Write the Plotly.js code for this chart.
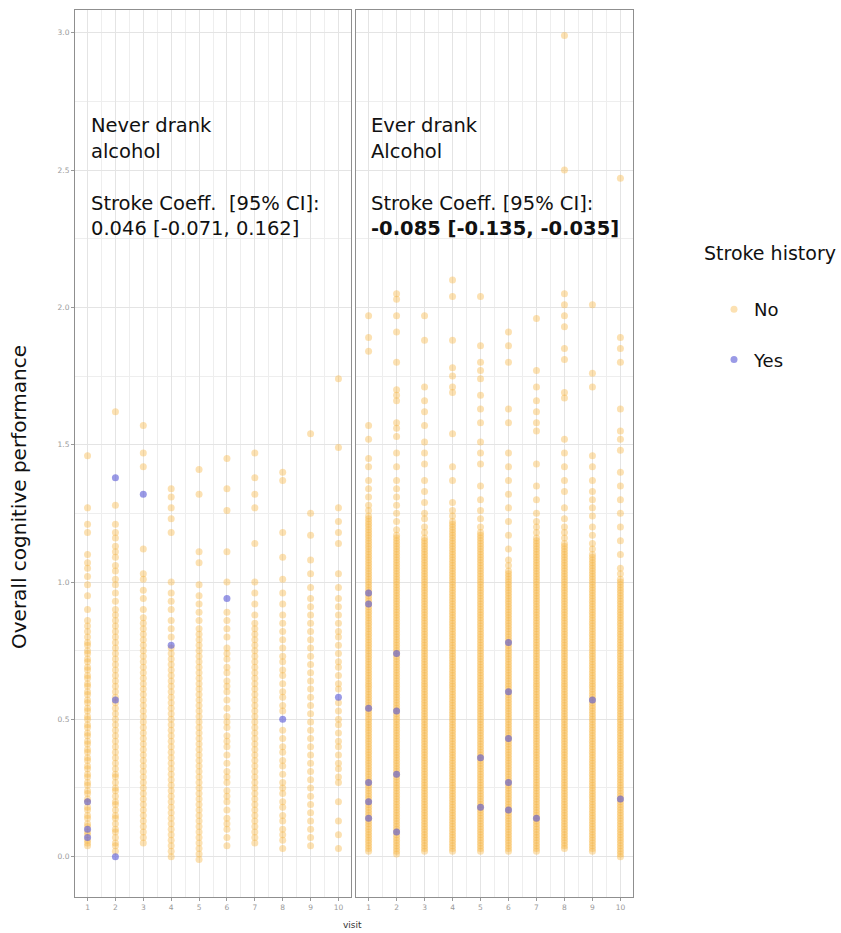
<!DOCTYPE html>
<html>
<head>
<meta charset="utf-8">
<script src="https://cdn.plot.ly/plotly-3.0.1.min.js"></script>
<style>
  html, body { margin: 0; padding: 0; background: #ffffff; }
  #chart { width: 841px; height: 933px; }
</style>
</head>
<body>
<div id="chart"></div>
<script>
// Visits on the x axis
const visits = [1, 2, 3, 4, 5, 6, 7, 8, 9, 10];
const visitTicks = ['1', '2', '3', '4', '5', '6', '7', '8', '9', '10'];
const scoreTicks = [0, 0.5, 1.0, 1.5, 2.0, 2.5, 3.0];

// Never drank alcohol, no stroke: scores per visit (index 0 = visit 1)
const neverNo = [
  [0.04,0.05,0.06,0.08,0.09,0.11,0.12,0.14,0.15,0.17,0.18,0.2,0.21,0.23,0.24,0.26,0.27,0.29,0.3,0.32,0.33,0.35,0.36,0.38,0.39,0.41,0.42,0.44,0.45,0.47,0.48,0.5,0.51,0.53,0.54,0.56,0.57,0.59,0.6,0.62,0.63,0.65,0.66,0.68,0.69,0.71,0.72,0.74,0.75,0.77,0.78,0.8,0.82,0.84,0.86,0.9,0.95,0.99,1.02,1.05,1.07,1.1,1.18,1.21,1.27,1.46],
  [0.02,0.04,0.05,0.07,0.09,0.1,0.12,0.14,0.15,0.17,0.19,0.2,0.22,0.24,0.25,0.27,0.29,0.3,0.32,0.34,0.36,0.38,0.4,0.42,0.44,0.46,0.48,0.5,0.52,0.54,0.56,0.58,0.6,0.62,0.64,0.66,0.68,0.7,0.72,0.74,0.76,0.78,0.8,0.82,0.84,0.86,0.88,0.9,0.93,0.96,0.99,1.01,1.04,1.06,1.09,1.11,1.13,1.16,1.18,1.21,1.28,1.62],
  [0.05,0.07,0.09,0.11,0.13,0.15,0.17,0.19,0.21,0.23,0.25,0.27,0.29,0.31,0.33,0.35,0.37,0.39,0.41,0.43,0.45,0.47,0.49,0.51,0.53,0.55,0.57,0.59,0.61,0.63,0.65,0.67,0.69,0.71,0.73,0.75,0.77,0.79,0.81,0.83,0.85,0.87,0.9,0.94,0.97,1.01,1.03,1.12,1.42,1.47,1.57],
  [0.0,0.02,0.04,0.06,0.08,0.1,0.12,0.14,0.16,0.18,0.2,0.22,0.24,0.26,0.28,0.3,0.32,0.34,0.36,0.38,0.4,0.42,0.44,0.46,0.48,0.5,0.52,0.54,0.56,0.58,0.6,0.62,0.64,0.66,0.68,0.7,0.72,0.74,0.76,0.8,0.83,0.86,0.9,0.93,0.96,1.0,1.18,1.23,1.27,1.31,1.34],
  [-0.01,0.01,0.03,0.05,0.07,0.09,0.11,0.13,0.15,0.17,0.19,0.21,0.23,0.25,0.27,0.29,0.31,0.33,0.35,0.37,0.39,0.41,0.43,0.45,0.47,0.49,0.51,0.53,0.55,0.57,0.59,0.61,0.63,0.65,0.67,0.69,0.71,0.73,0.75,0.77,0.79,0.81,0.83,0.86,0.89,0.92,0.95,0.99,1.07,1.11,1.32,1.41],
  [0.04,0.07,0.1,0.12,0.14,0.17,0.2,0.22,0.24,0.27,0.29,0.31,0.34,0.37,0.4,0.42,0.44,0.47,0.49,0.51,0.54,0.57,0.6,0.62,0.64,0.67,0.69,0.72,0.74,0.76,0.8,0.83,0.86,0.89,1.0,1.11,1.26,1.34,1.45],
  [0.05,0.07,0.09,0.11,0.13,0.15,0.17,0.19,0.21,0.23,0.25,0.27,0.29,0.31,0.33,0.35,0.37,0.39,0.41,0.43,0.45,0.47,0.49,0.51,0.53,0.55,0.57,0.59,0.61,0.63,0.65,0.67,0.69,0.71,0.73,0.75,0.77,0.79,0.81,0.83,0.85,0.88,0.92,0.96,1.0,1.14,1.27,1.32,1.38,1.47],
  [0.03,0.06,0.08,0.1,0.13,0.15,0.18,0.2,0.23,0.25,0.27,0.3,0.33,0.35,0.38,0.4,0.43,0.46,0.53,0.55,0.58,0.6,0.63,0.66,0.68,0.71,0.73,0.76,0.79,0.82,0.85,0.88,0.92,0.96,1.01,1.09,1.18,1.37,1.4],
  [0.04,0.07,0.1,0.13,0.16,0.19,0.22,0.25,0.28,0.31,0.34,0.37,0.4,0.43,0.46,0.49,0.52,0.55,0.58,0.61,0.64,0.67,0.7,0.73,0.76,0.79,0.82,0.85,0.88,0.91,0.94,0.98,1.03,1.08,1.17,1.25,1.54],
  [0.03,0.08,0.13,0.2,0.27,0.29,0.32,0.34,0.37,0.4,0.42,0.45,0.48,0.5,0.53,0.56,0.61,0.63,0.66,0.69,0.71,0.74,0.77,0.8,0.82,0.85,0.88,0.91,0.94,0.98,1.03,1.14,1.18,1.22,1.27,1.49,1.74]
];

// Never drank alcohol, stroke history
const neverYesVisit = [1, 1, 1, 2, 2, 2, 3, 4, 6, 8, 10];
const neverYesScore = [0.20, 0.10, 0.07, 1.38, 0.57, 0.0, 1.32, 0.77, 0.94, 0.50, 0.58];

// Ever drank alcohol, no stroke: scores per visit (index 0 = visit 1)
const everNo = [
  [0.02,0.03,0.04,0.05,0.06,0.07,0.08,0.09,0.1,0.11,0.12,0.13,0.14,0.15,0.16,0.17,0.18,0.19,0.2,0.21,0.22,0.23,0.24,0.25,0.26,0.27,0.28,0.29,0.3,0.31,0.32,0.33,0.34,0.35,0.36,0.37,0.38,0.39,0.4,0.41,0.42,0.43,0.44,0.45,0.46,0.47,0.48,0.49,0.5,0.51,0.52,0.53,0.54,0.55,0.56,0.57,0.58,0.59,0.6,0.61,0.62,0.63,0.64,0.65,0.66,0.67,0.68,0.69,0.7,0.71,0.72,0.73,0.74,0.75,0.76,0.77,0.78,0.79,0.8,0.81,0.82,0.83,0.84,0.85,0.86,0.87,0.88,0.89,0.9,0.91,0.92,0.93,0.94,0.95,0.96,0.97,0.98,0.99,1.0,1.01,1.02,1.03,1.04,1.05,1.06,1.07,1.08,1.09,1.1,1.11,1.12,1.13,1.14,1.15,1.16,1.17,1.18,1.19,1.2,1.21,1.22,1.23,1.24,1.26,1.28,1.31,1.34,1.37,1.42,1.45,1.52,1.57,1.84,1.89,1.97],
  [0.01,0.02,0.03,0.04,0.05,0.06,0.07,0.08,0.09,0.1,0.11,0.12,0.13,0.14,0.15,0.16,0.17,0.18,0.19,0.2,0.21,0.22,0.23,0.24,0.25,0.26,0.27,0.28,0.29,0.3,0.31,0.32,0.33,0.34,0.35,0.36,0.37,0.38,0.39,0.4,0.41,0.42,0.43,0.44,0.45,0.46,0.47,0.48,0.49,0.5,0.51,0.52,0.53,0.54,0.55,0.56,0.57,0.58,0.59,0.6,0.61,0.62,0.63,0.64,0.65,0.66,0.67,0.68,0.69,0.7,0.71,0.72,0.73,0.74,0.75,0.76,0.77,0.78,0.79,0.8,0.81,0.82,0.83,0.84,0.85,0.86,0.87,0.88,0.89,0.9,0.91,0.92,0.93,0.94,0.95,0.96,0.97,0.98,0.99,1.0,1.01,1.02,1.03,1.04,1.05,1.06,1.07,1.08,1.09,1.1,1.11,1.12,1.13,1.14,1.15,1.16,1.17,1.19,1.22,1.25,1.28,1.31,1.34,1.37,1.42,1.47,1.53,1.56,1.58,1.66,1.68,1.7,1.8,1.91,1.97,2.03,2.05],
  [0.02,0.03,0.04,0.05,0.06,0.07,0.08,0.09,0.1,0.11,0.12,0.13,0.14,0.15,0.16,0.17,0.18,0.19,0.2,0.21,0.22,0.23,0.24,0.25,0.26,0.27,0.28,0.29,0.3,0.31,0.32,0.33,0.34,0.35,0.36,0.37,0.38,0.39,0.4,0.41,0.42,0.43,0.44,0.45,0.46,0.47,0.48,0.49,0.5,0.51,0.52,0.53,0.54,0.55,0.56,0.57,0.58,0.59,0.6,0.61,0.62,0.63,0.64,0.65,0.66,0.67,0.68,0.69,0.7,0.71,0.72,0.73,0.74,0.75,0.76,0.77,0.78,0.79,0.8,0.81,0.82,0.83,0.84,0.85,0.86,0.87,0.88,0.89,0.9,0.91,0.92,0.93,0.94,0.95,0.96,0.97,0.98,0.99,1.0,1.01,1.02,1.03,1.04,1.05,1.06,1.07,1.08,1.09,1.1,1.11,1.12,1.13,1.14,1.15,1.16,1.18,1.2,1.23,1.25,1.29,1.33,1.37,1.43,1.47,1.51,1.57,1.62,1.66,1.71,1.88,1.97],
  [0.02,0.03,0.04,0.05,0.06,0.07,0.08,0.09,0.1,0.11,0.12,0.13,0.14,0.15,0.16,0.17,0.18,0.19,0.2,0.21,0.22,0.23,0.24,0.25,0.26,0.27,0.28,0.29,0.3,0.31,0.32,0.33,0.34,0.35,0.36,0.37,0.38,0.39,0.4,0.41,0.42,0.43,0.44,0.45,0.46,0.47,0.48,0.49,0.5,0.51,0.52,0.53,0.54,0.55,0.56,0.57,0.58,0.59,0.6,0.61,0.62,0.63,0.64,0.65,0.66,0.67,0.68,0.69,0.7,0.71,0.72,0.73,0.74,0.75,0.76,0.77,0.78,0.79,0.8,0.81,0.82,0.83,0.84,0.85,0.86,0.87,0.88,0.89,0.9,0.91,0.92,0.93,0.94,0.95,0.96,0.97,0.98,0.99,1.0,1.01,1.02,1.03,1.04,1.05,1.06,1.07,1.08,1.09,1.1,1.11,1.12,1.13,1.14,1.15,1.16,1.17,1.18,1.19,1.2,1.21,1.22,1.24,1.26,1.29,1.37,1.42,1.54,1.69,1.71,1.75,1.78,1.88,2.04,2.1],
  [0.02,0.03,0.04,0.05,0.06,0.07,0.08,0.09,0.1,0.11,0.12,0.13,0.14,0.15,0.16,0.17,0.18,0.19,0.2,0.21,0.22,0.23,0.24,0.25,0.26,0.27,0.28,0.29,0.3,0.31,0.32,0.33,0.34,0.35,0.36,0.37,0.38,0.39,0.4,0.41,0.42,0.43,0.44,0.45,0.46,0.47,0.48,0.49,0.5,0.51,0.52,0.53,0.54,0.55,0.56,0.57,0.58,0.59,0.6,0.61,0.62,0.63,0.64,0.65,0.66,0.67,0.68,0.69,0.7,0.71,0.72,0.73,0.74,0.75,0.76,0.77,0.78,0.79,0.8,0.81,0.82,0.83,0.84,0.85,0.86,0.87,0.88,0.89,0.9,0.91,0.92,0.93,0.94,0.95,0.96,0.97,0.98,0.99,1.0,1.01,1.02,1.03,1.04,1.05,1.06,1.07,1.08,1.09,1.1,1.11,1.12,1.13,1.14,1.15,1.16,1.17,1.18,1.2,1.23,1.26,1.3,1.35,1.43,1.47,1.51,1.58,1.63,1.68,1.74,1.77,1.8,1.86,2.04],
  [0.02,0.03,0.04,0.05,0.06,0.07,0.08,0.09,0.1,0.11,0.12,0.13,0.14,0.15,0.16,0.17,0.18,0.19,0.2,0.21,0.22,0.23,0.24,0.25,0.26,0.27,0.28,0.29,0.3,0.31,0.32,0.33,0.34,0.35,0.36,0.37,0.38,0.39,0.4,0.41,0.42,0.43,0.44,0.45,0.46,0.47,0.48,0.49,0.5,0.51,0.52,0.53,0.54,0.55,0.56,0.57,0.58,0.59,0.6,0.61,0.62,0.63,0.64,0.65,0.66,0.67,0.68,0.69,0.7,0.71,0.72,0.73,0.74,0.75,0.76,0.77,0.78,0.79,0.8,0.81,0.82,0.83,0.84,0.85,0.86,0.87,0.88,0.89,0.9,0.91,0.92,0.93,0.94,0.95,0.96,0.97,0.98,0.99,1.0,1.01,1.02,1.03,1.04,1.06,1.08,1.12,1.17,1.22,1.27,1.32,1.37,1.42,1.47,1.58,1.63,1.8,1.86,1.91],
  [0.02,0.03,0.04,0.05,0.06,0.07,0.08,0.09,0.1,0.11,0.12,0.13,0.14,0.15,0.16,0.17,0.18,0.19,0.2,0.21,0.22,0.23,0.24,0.25,0.26,0.27,0.28,0.29,0.3,0.31,0.32,0.33,0.34,0.35,0.36,0.37,0.38,0.39,0.4,0.41,0.42,0.43,0.44,0.45,0.46,0.47,0.48,0.49,0.5,0.51,0.52,0.53,0.54,0.55,0.56,0.57,0.58,0.59,0.6,0.61,0.62,0.63,0.64,0.65,0.66,0.67,0.68,0.69,0.7,0.71,0.72,0.73,0.74,0.75,0.76,0.77,0.78,0.79,0.8,0.81,0.82,0.83,0.84,0.85,0.86,0.87,0.88,0.89,0.9,0.91,0.92,0.93,0.94,0.95,0.96,0.97,0.98,0.99,1.0,1.01,1.02,1.03,1.04,1.05,1.06,1.07,1.08,1.09,1.1,1.11,1.12,1.13,1.14,1.15,1.16,1.18,1.2,1.22,1.25,1.3,1.35,1.43,1.55,1.58,1.62,1.66,1.71,1.77,1.96],
  [0.03,0.04,0.05,0.06,0.07,0.08,0.09,0.1,0.11,0.12,0.13,0.14,0.15,0.16,0.17,0.18,0.19,0.2,0.21,0.22,0.23,0.24,0.25,0.26,0.27,0.28,0.29,0.3,0.31,0.32,0.33,0.34,0.35,0.36,0.37,0.38,0.39,0.4,0.41,0.42,0.43,0.44,0.45,0.46,0.47,0.48,0.49,0.5,0.51,0.52,0.53,0.54,0.55,0.56,0.57,0.58,0.59,0.6,0.61,0.62,0.63,0.64,0.65,0.66,0.67,0.68,0.69,0.7,0.71,0.72,0.73,0.74,0.75,0.76,0.77,0.78,0.79,0.8,0.81,0.82,0.83,0.84,0.85,0.86,0.87,0.88,0.89,0.9,0.91,0.92,0.93,0.94,0.95,0.96,0.97,0.98,0.99,1.0,1.01,1.02,1.03,1.04,1.05,1.06,1.07,1.08,1.09,1.1,1.11,1.12,1.13,1.14,1.16,1.18,1.2,1.23,1.27,1.33,1.37,1.42,1.47,1.52,1.67,1.69,1.81,1.85,1.93,1.97,2.01,2.05,2.5,2.99],
  [0.02,0.03,0.04,0.05,0.06,0.07,0.08,0.09,0.1,0.11,0.12,0.13,0.14,0.15,0.16,0.17,0.18,0.19,0.2,0.21,0.22,0.23,0.24,0.25,0.26,0.27,0.28,0.29,0.3,0.31,0.32,0.33,0.34,0.35,0.36,0.37,0.38,0.39,0.4,0.41,0.42,0.43,0.44,0.45,0.46,0.47,0.48,0.49,0.5,0.51,0.52,0.53,0.54,0.55,0.56,0.57,0.58,0.59,0.6,0.61,0.62,0.63,0.64,0.65,0.66,0.67,0.68,0.69,0.7,0.71,0.72,0.73,0.74,0.75,0.76,0.77,0.78,0.79,0.8,0.81,0.82,0.83,0.84,0.85,0.86,0.87,0.88,0.89,0.9,0.91,0.92,0.93,0.94,0.95,0.96,0.97,0.98,0.99,1.0,1.01,1.02,1.03,1.04,1.05,1.06,1.07,1.08,1.09,1.1,1.12,1.14,1.17,1.2,1.24,1.27,1.3,1.33,1.37,1.42,1.46,1.71,1.76,2.01],
  [0.0,0.01,0.02,0.03,0.04,0.05,0.06,0.07,0.08,0.09,0.1,0.11,0.12,0.13,0.14,0.15,0.16,0.17,0.18,0.19,0.2,0.21,0.22,0.23,0.24,0.25,0.26,0.27,0.28,0.29,0.3,0.31,0.32,0.33,0.34,0.35,0.36,0.37,0.38,0.39,0.4,0.41,0.42,0.43,0.44,0.45,0.46,0.47,0.48,0.49,0.5,0.51,0.52,0.53,0.54,0.55,0.56,0.57,0.58,0.59,0.6,0.61,0.62,0.63,0.64,0.65,0.66,0.67,0.68,0.69,0.7,0.71,0.72,0.73,0.74,0.75,0.76,0.77,0.78,0.79,0.8,0.81,0.82,0.83,0.84,0.85,0.86,0.87,0.88,0.89,0.9,0.91,0.92,0.93,0.94,0.95,0.96,0.97,0.98,0.99,1.0,1.01,1.03,1.05,1.1,1.15,1.2,1.25,1.3,1.35,1.4,1.48,1.52,1.55,1.63,1.8,1.85,1.89,2.47]
];

// Ever drank alcohol, stroke history
const everYesVisit = [1, 1, 1, 1, 1, 1, 2, 2, 2, 2, 5, 5, 6, 6, 6, 6, 6, 7, 9, 10];
const everYesScore = [0.96, 0.92, 0.54, 0.27, 0.20, 0.14, 0.74, 0.53, 0.30, 0.09, 0.36, 0.18, 0.78, 0.60, 0.43, 0.27, 0.17, 0.14, 0.57, 0.21];

// Stroke coefficient with 95% CI per panel: [estimate, lower, upper]
const coefNever = [0.046, -0.071, 0.162];
const coefEver = [-0.085, -0.135, -0.035];

const panelLabels = [['Never drank', 'alcohol'], ['Ever drank', 'Alcohol']];
const groupNames = ['No', 'Yes'];

// Flatten per-visit score lists into x/y pairs
function flatten(perVisit) {
  const xs = [], ys = [];
  perVisit.forEach((scores, i) => {
    scores.forEach(s => { xs.push(visits[i]); ys.push(s); });
  });
  return { xs, ys };
}

const NO_COLOR = 'rgb(247,180,62)';
const YES_COLOR = 'rgb(92,92,214)';
const FONT = '"DejaVu Sans", sans-serif';

const nn = flatten(neverNo);
const en = flatten(everNo);

const noMarker = { color: NO_COLOR, size: 7, opacity: 0.4, line: { width: 0 } };
const yesMarker = { color: YES_COLOR, size: 7, opacity: 0.62, line: { width: 0 } };

const traces = [
  { type: 'scatter', mode: 'markers', x: nn.xs, y: nn.ys, xaxis: 'x', yaxis: 'y',
    name: groupNames[0], legendgroup: 'no', marker: noMarker, hoverinfo: 'skip' },
  { type: 'scatter', mode: 'markers', x: en.xs, y: en.ys, xaxis: 'x2', yaxis: 'y2',
    name: groupNames[0], legendgroup: 'no', showlegend: false, marker: noMarker, hoverinfo: 'skip' },
  { type: 'scatter', mode: 'markers', x: neverYesVisit, y: neverYesScore, xaxis: 'x', yaxis: 'y',
    name: groupNames[1], legendgroup: 'yes', marker: yesMarker, hoverinfo: 'skip' },
  { type: 'scatter', mode: 'markers', x: everYesVisit, y: everYesScore, xaxis: 'x2', yaxis: 'y2',
    name: groupNames[1], legendgroup: 'yes', showlegend: false, marker: yesMarker, hoverinfo: 'skip' }
];

// Plot area geometry (pixels)
const W = 841, H = 933;
const M = { l: 75, r: 208, t: 10, b: 36 };
const PW = W - M.l - M.r, PH = H - M.t - M.b;
const px = v => (v - M.l) / PW;
const py = v => (H - M.b - v) / PH;

const xAxisBase = {
  range: [0.55, 10.45],
  tickmode: 'array', tickvals: visits, ticktext: visitTicks,
  ticks: 'outside', ticklen: 3, tickwidth: 1, tickcolor: '#9a9a9a',
  tickfont: { family: FONT, size: 7.5, color: '#9a9a9a' },
  showgrid: true, gridcolor: '#e4e4e4', gridwidth: 1,
  minor: { dtick: 0.5, tick0: 0.5, showgrid: true, gridcolor: '#eeeeee', gridwidth: 1 },
  showline: true, mirror: true, linecolor: '#8f8f8f', linewidth: 1,
  zeroline: false, fixedrange: true
};

const yAxisBase = {
  range: [-0.147, 3.083],
  tickmode: 'array', tickvals: scoreTicks,
  tickformat: '.1f',
  ticks: 'outside', ticklen: 3, tickwidth: 1, tickcolor: '#9a9a9a',
  tickfont: { family: FONT, size: 7.5, color: '#9a9a9a' },
  showgrid: true, gridcolor: '#e4e4e4', gridwidth: 1,
  minor: { dtick: 0.25, tick0: 0, showgrid: true, gridcolor: '#eeeeee', gridwidth: 1 },
  showline: true, mirror: true, linecolor: '#8f8f8f', linewidth: 1,
  zeroline: false, fixedrange: true
};

const fmt = v => v.toFixed(3);
const ciText = c => fmt(c[0]) + ' [' + fmt(c[1]) + ', ' + fmt(c[2]) + ']';

const textFont = { family: FONT, size: 19.5, color: '#111111' };
function label(text, x, y, bold) {
  return {
    xref: 'paper', yref: 'paper', x: px(x), y: py(y),
    xanchor: 'left', yanchor: 'middle', showarrow: false, align: 'left',
    text: bold ? '<b>' + text + '</b>' : text,
    font: textFont
  };
}

const annotations = [
  label(panelLabels[0][0], 89, 126),
  label(panelLabels[0][1], 89, 151),
  label('Stroke Coeff.\u00a0\u00a0[95% CI]:', 89, 204),
  label(ciText(coefNever), 89, 229),
  label(panelLabels[1][0], 369, 126),
  label(panelLabels[1][1], 369, 151),
  label('Stroke Coeff. [95% CI]:', 369, 204),
  label(ciText(coefEver), 369, 229, true),
  { xref: 'paper', yref: 'paper', x: px(352), y: py(925), xanchor: 'center', yanchor: 'middle',
    showarrow: false, text: 'visit', font: { family: FONT, size: 9, color: '#333333' } },
  { xref: 'paper', yref: 'paper', x: px(19), y: py(497), xanchor: 'center', yanchor: 'middle',
    showarrow: false, textangle: -90, text: 'Overall cognitive performance',
    font: { family: FONT, size: 20, color: '#111111' } },
  // legend heading
  { xref: 'paper', yref: 'paper', x: px(702), y: py(253), xanchor: 'left', yanchor: 'middle',
    showarrow: false, text: 'Stroke history', font: { family: FONT, size: 19, color: '#111111' } }
];

const layout = {
  width: W, height: H,
  margin: M,
  paper_bgcolor: '#ffffff', plot_bgcolor: '#ffffff',
  font: { family: FONT, color: '#111111' },
  xaxis: Object.assign({}, xAxisBase, { domain: [0, 276 / PW], anchor: 'y' }),
  xaxis2: Object.assign({}, xAxisBase, { domain: [281 / PW, 1], anchor: 'y2' }),
  yaxis: Object.assign({}, yAxisBase, { anchor: 'x' }),
  yaxis2: Object.assign({}, yAxisBase, { anchor: 'x2', matches: 'y', showticklabels: false, ticks: '' }),
  showlegend: true,
  legend: {
    x: px(714), y: py(291), xanchor: 'left', yanchor: 'top',
    font: { family: FONT, size: 18, color: '#111111' },
    tracegroupgap: 24, bgcolor: 'rgba(0,0,0,0)', borderwidth: 0
  },
  annotations: annotations
};

Plotly.newPlot('chart', traces, layout, { displayModeBar: false, staticPlot: true });
</script>
</body>
</html>
